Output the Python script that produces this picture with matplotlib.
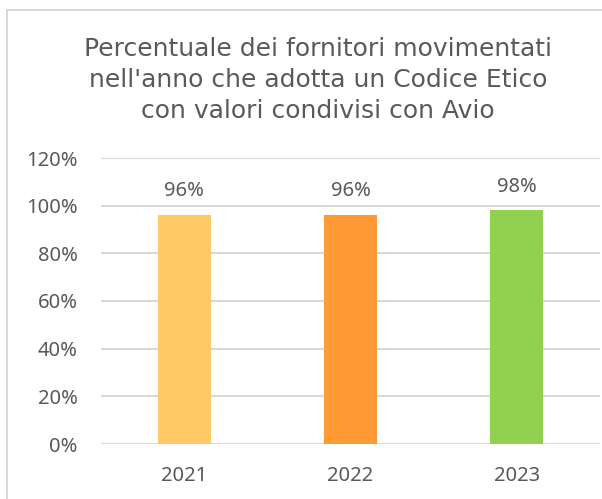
import matplotlib
matplotlib.use("Agg")
import matplotlib.pyplot as plt
from matplotlib.patches import Rectangle

years = ["2021", "2022", "2023"]
values = [0.96, 0.96, 0.98]
labels = ["96%", "96%", "98%"]
colors = ["#FFC966", "#FF9933", "#92D050"]
yticks = [0, 0.2, 0.4, 0.6, 0.8, 1.0, 1.2]
title = "Percentuale dei fornitori movimentati\nnell'anno che adotta un Codice Etico\ncon valori condivisi con Avio"

plt.rcParams['font.family'] = ['Noto Sans', 'DejaVu Sans']
text_col = "#595959"
grid_col = "#D9D9D9"

W, H = 602, 499
fig = plt.figure(figsize=(W / 100, H / 100), dpi=100)

# outer chart border
fig.add_artist(Rectangle((7 / W, -0.1), 1.2, (H - 10) / H + 0.1, transform=fig.transFigure,
                         fill=False, edgecolor=grid_col, linewidth=1.5))

# axes: x from 101 to 600 px, y from 158 (120%) to 444 (0%)
ax = fig.add_axes([101 / W, (H - 444) / H, (600 - 101) / W, (444 - 158) / H])
x = list(range(len(years)))
ax.bar(x, values, width=0.32, color=colors, zorder=3)
ax.set_xlim(-0.5, 2.5)
ax.set_ylim(0, 1.2)
ax.set_yticks(yticks)
ax.set_yticklabels([f"{int(round(t * 100))}%" for t in yticks])
ax.set_xticks(x)
ax.set_xticklabels(years)
ax.tick_params(axis='both', length=0, labelsize=14.5, colors=text_col)
ax.tick_params(axis='y', pad=17)
ax.tick_params(axis='x', pad=16)
ax.grid(axis='y', color=grid_col, linewidth=1.5, zorder=0)
for s in ax.spines.values():
    s.set_visible(False)

for xi, v, lab in zip(x, values, labels):
    ax.annotate(lab, (xi, v), xytext=(0, 10), textcoords='offset points',
                ha='center', va='bottom', fontsize=14.5, color=text_col)

fig.text(318 / W, (H - 80) / H, title, ha='center', va='center', fontsize=18,
         color=text_col, linespacing=1.37, family='DejaVu Sans')

fig.savefig("out.png", dpi=100)
